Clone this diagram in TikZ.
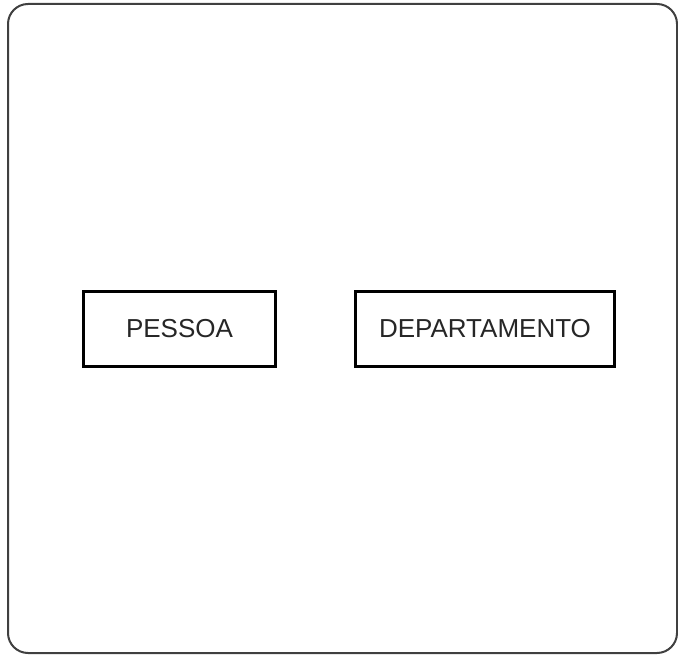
\documentclass[tikz,border=0pt]{standalone}
\usepackage{fontspec}
\setmainfont{Liberation Sans}
\usetikzlibrary{positioning}
\tikzset{
    frame/.style = {
        draw = black!75,
        line width = 2pt,
        rounded corners = 20pt,
        },
    entity/.style = {
        draw,
        line width = 3pt,
        minimum height = 75pt,
        inner sep = 0pt,
        font = \fontsize{26}{30}\selectfont,
        text = black!85,
        },
}
\begin{document}
\begin{tikzpicture}[x=1pt,y=1pt]
            \useasboundingbox (0,0) rectangle (678,654);
            \draw[frame] (8,1) rectangle (677,650);

            \node[entity, minimum width=192pt] (pessoa) at (179.5,325) {PESSOA};
            \node[entity, minimum width=259pt, right=77pt of pessoa] (departamento) {DEPARTAMENTO};
        \end{tikzpicture}
\end{document}
